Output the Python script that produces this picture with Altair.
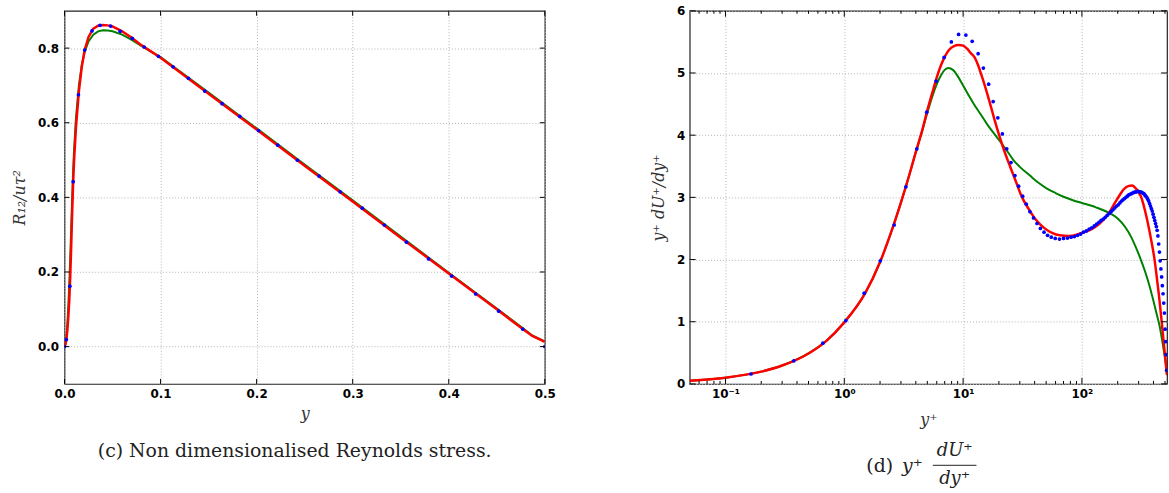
import altair as alt
import pandas as pd

# ---------------- Panel (c): Reynolds stress ----------------
c_dns_y = [0.0, 0.0019, 0.0056, 0.009, 0.0145, 0.021, 0.0286, 0.037, 0.048, 0.058,
           0.0706, 0.083, 0.0978, 0.113, 0.129, 0.146, 0.164, 0.1825, 0.202, 0.222,
           0.2425, 0.265, 0.287, 0.31, 0.333, 0.356, 0.379, 0.403, 0.428, 0.452, 0.477, 0.5]
c_dns_r = [0.0, 0.019, 0.162, 0.442, 0.675, 0.795, 0.846, 0.861, 0.859, 0.845,
           0.826, 0.803, 0.778, 0.750, 0.719, 0.685, 0.651, 0.617, 0.579, 0.540,
           0.4995, 0.457, 0.415, 0.371, 0.326, 0.280, 0.235, 0.189, 0.141, 0.095, 0.047, 0.0]

c_red_y = [0.0, 0.001, 0.002, 0.003, 0.004, 0.005, 0.006, 0.007, 0.008, 0.009, 0.01, 0.012,
           0.015, 0.018, 0.021, 0.025, 0.03, 0.035, 0.04, 0.045, 0.05, 0.06, 0.07, 0.08,
           0.1, 0.15, 0.2, 0.25, 0.3, 0.35, 0.4, 0.45, 0.477, 0.487, 0.5]
c_red_r = [0.0, 0.006, 0.02, 0.045, 0.08, 0.125, 0.19, 0.27, 0.36, 0.44, 0.5, 0.59,
           0.685, 0.75, 0.795, 0.83, 0.852, 0.86, 0.862, 0.861, 0.858, 0.845, 0.828, 0.808,
           0.774, 0.678, 0.582, 0.485, 0.389, 0.292, 0.196, 0.1, 0.047, 0.0285, 0.013]

c_grn_y = [0.0, 0.001, 0.002, 0.003, 0.004, 0.005, 0.006, 0.007, 0.008, 0.009, 0.01, 0.012,
           0.015, 0.018, 0.021, 0.025, 0.03, 0.035, 0.04, 0.045, 0.05, 0.06, 0.07, 0.08,
           0.1, 0.15, 0.2, 0.25, 0.3, 0.35, 0.4, 0.45, 0.477, 0.487, 0.5]
c_grn_r = [0.0, 0.008, 0.025, 0.06, 0.11, 0.17, 0.24, 0.32, 0.4, 0.47, 0.53, 0.615,
           0.7, 0.755, 0.79, 0.818, 0.836, 0.845, 0.848, 0.847, 0.845, 0.836, 0.822, 0.806,
           0.776, 0.681, 0.585, 0.488, 0.392, 0.295, 0.198, 0.102, 0.05, 0.03, 0.014]

c_x_ticks = [0.0, 0.1, 0.2, 0.3, 0.4, 0.5]
c_y_ticks = [0.0, 0.2, 0.4, 0.6, 0.8]

# ---------------- Panel (d): y+ dU+/dy+ ----------------
d_dns_yp = [0.164, 0.376, 0.66, 1.03, 1.47, 2.01, 2.63, 3.30, 4.08, 4.94, 5.93, 6.92, 7.96,
            9.16, 10.55, 11.93, 13.38, 14.8, 16.4, 17.9, 19.6, 21.4, 23.3, 25.3, 27.3, 29.3,
            31.7, 34.0, 36.5, 39.1, 41.9, 44.7, 48.0, 51.4, 55.2, 59.6, 64.7,
            70, 75.5, 81, 86.5, 92, 97.5, 103, 109, 115, 121, 127, 133, 139, 145, 151, 157,
            163, 169.5, 176, 182.5, 189, 195.5, 202, 208.5, 215, 221.5, 228, 234.5, 241,
            247.5, 254, 260.5, 267, 273.5, 280, 286.5, 293, 299.5, 306, 312.5, 319, 325.5,
            332, 338.5, 345, 351.5, 358, 364.5, 371, 377.5, 384, 390.5, 397, 403.5, 410,
            416.5, 423, 429.5, 436, 442.5, 449, 455.5, 462, 468.5, 475, 481.5, 488, 494.5,
            501, 506, 511, 516]
d_dns_v = [0.16, 0.372, 0.655, 1.017, 1.46, 1.98, 2.556, 3.17, 3.78, 4.37, 4.87, 5.25, 5.50,
           5.62, 5.61, 5.51, 5.31, 5.08, 4.82, 4.54, 4.28, 4.02, 3.78, 3.56, 3.35, 3.18,
           3.02, 2.89, 2.77, 2.67, 2.58, 2.50, 2.44, 2.39, 2.36, 2.34, 2.33,
           2.34, 2.345, 2.36, 2.37, 2.39, 2.41, 2.44, 2.46, 2.49, 2.51, 2.54, 2.57, 2.60,
           2.63, 2.65, 2.68, 2.71, 2.74, 2.77, 2.80, 2.83, 2.86, 2.88, 2.91, 2.94, 2.96,
           2.98, 3.00, 3.02, 3.04, 3.05, 3.06, 3.07, 3.08, 3.085, 3.09, 3.095, 3.095, 3.09,
           3.085, 3.08, 3.07, 3.06, 3.04, 3.02, 3.00, 2.97, 2.94, 2.90, 2.86, 2.82, 2.78,
           2.73, 2.68, 2.63, 2.58, 2.53, 2.47, 2.38, 2.25, 2.12, 1.98, 1.85, 1.72, 1.58,
           1.45, 1.30, 1.14, 0.88, 0.68, 0.47, 0.22]

d_red_yp = [0.05, 0.1, 0.2, 0.3, 0.5, 0.7, 1.0, 1.5, 2.0, 2.5, 3.0, 3.5, 4.0, 4.5, 5.0, 5.5,
            6.0, 6.5, 7.0, 7.6, 8.3, 9.2, 10.0, 10.8, 11.6, 12.5, 13.4, 14.3, 15.5, 16.9,
            18.5, 20.1, 22.0, 24.8, 27.5, 31.0, 36.0, 41.0, 48.0, 56.0, 65.0, 78.0, 90.0,
            100.0, 115.0, 131.0, 150.0, 169.0, 192.0, 210.0, 225.0, 245.0, 264.0, 285.0,
            300.0, 316.0, 330.0, 350.0, 370.0, 390.0, 407.0, 425.0, 445.0, 469.0, 490.0,
            510.0, 520.0]
d_red_v = [0.05, 0.1, 0.198, 0.296, 0.49, 0.685, 0.99, 1.46, 1.96, 2.46, 2.92, 3.34, 3.73,
           4.06, 4.40, 4.68, 4.93, 5.12, 5.26, 5.37, 5.43, 5.45, 5.44, 5.39, 5.32, 5.25,
           5.12, 4.96, 4.75, 4.5, 4.23, 4.0, 3.77, 3.5, 3.28, 3.02, 2.8, 2.64, 2.51, 2.43,
           2.39, 2.38, 2.40, 2.43, 2.47, 2.53, 2.63, 2.75, 2.93, 3.05, 3.13, 3.18, 3.19,
           3.14, 3.08, 3.0, 2.88, 2.68, 2.46, 2.23, 2.02, 1.74, 1.42, 1.0, 0.63, 0.3, 0.14]

d_grn_yp = [0.05, 0.1, 0.2, 0.3, 0.5, 0.7, 1.0, 1.5, 2.0, 2.5, 3.0, 3.5, 4.0, 4.5, 5.0, 5.5,
            6.0, 6.5, 7.0, 7.5, 8.2, 9.0, 10.0, 11.0, 12.3, 14.0, 16.0, 19.0, 23.0, 26.5,
            30.0, 36.5, 42.0, 50.0, 60.0, 70.0, 85.0, 100.0, 131.0, 169.0, 200.0, 232.0,
            260.0, 281.0, 310.0, 341.0, 370.0, 398.0, 425.0, 454.0, 475.0, 490.0, 505.0, 520.0]
d_grn_v = [0.05, 0.1, 0.198, 0.296, 0.49, 0.685, 0.99, 1.46, 1.96, 2.46, 2.92, 3.34, 3.73,
           4.05, 4.36, 4.62, 4.82, 4.96, 5.05, 5.08, 5.05, 4.95, 4.80, 4.66, 4.50, 4.34,
           4.17, 3.98, 3.77, 3.6, 3.49, 3.35, 3.25, 3.15, 3.07, 3.01, 2.95, 2.91, 2.84,
           2.75, 2.66, 2.52, 2.36, 2.22, 2.02, 1.80, 1.58, 1.35, 1.13, 0.9, 0.68, 0.52,
           0.36, 0.15]

d_x_major = [0.1, 1, 10, 100]
d_x_minor = [0.06, 0.07, 0.08, 0.09, 0.2, 0.3, 0.4, 0.5, 0.6, 0.7, 0.8, 0.9,
             2, 3, 4, 5, 6, 7, 8, 9, 20, 30, 40, 50, 60, 70, 80, 90, 200, 300, 400, 500]
d_y_ticks = [0, 1, 2, 3, 4, 5, 6]

caption_c = "(c) Non dimensionalised Reynolds stress."

# ---------------- styling ----------------
H = 376
W1 = 484
W2 = 481
RED = "#ff0000"
GREEN = "#008000"
BLUE = "#0000ff"
LABEL_FONT = "DejaVu Sans"
SERIF = "DejaVu Serif"
CAP_FONT = "DejaVu Serif"
CAP_SIZE = 19
FRAC_SIZE = 18
CAP_COLOR = "#222"

axis_common = dict(
    ticks=False, domain=False, grid=True, labelFlush=False, labelOverlap=False,
    gridColor="#b4b4b4", gridDash=[1, 2], gridWidth=1,
    labelFont=LABEL_FONT, labelFontWeight="bold", labelFontSize=12, labelColor="#000",
    titleFont=SERIF, titleFontStyle="italic", titleFontWeight="normal",
    titleColor="#333", titleFontSize=16,
)


def tick_layers(xvals, yvals, xscale, yscale, W, L):
    layers = []
    if xvals:
        dfx = pd.DataFrame({"x": xvals})
        layers.append(alt.Chart(dfx).mark_rule(color="#000", strokeWidth=1).encode(
            x=alt.X("x:Q", scale=xscale), y=alt.value(H), y2=alt.value(H - L)))
        layers.append(alt.Chart(dfx).mark_rule(color="#000", strokeWidth=1).encode(
            x=alt.X("x:Q", scale=xscale), y=alt.value(0), y2=alt.value(L)))
    if yvals:
        dfy = pd.DataFrame({"v": yvals})
        layers.append(alt.Chart(dfy).mark_rule(color="#000", strokeWidth=1).encode(
            y=alt.Y("v:Q", scale=yscale), x=alt.value(0), x2=alt.value(L)))
        layers.append(alt.Chart(dfy).mark_rule(color="#000", strokeWidth=1).encode(
            y=alt.Y("v:Q", scale=yscale), x=alt.value(W), x2=alt.value(W - L)))
    return layers


# ---------------- panel (c) ----------------
xs1 = alt.Scale(domain=[0, 0.5], nice=False, zero=False, padding=0)
ys1 = alt.Scale(domain=[-0.1, 0.9], nice=False, zero=False, padding=0)

df_c_grn = pd.DataFrame({"x": c_grn_y, "v": c_grn_r})
df_c_red = pd.DataFrame({"x": c_red_y, "v": c_red_r})
df_c_dns = pd.DataFrame({"x": c_dns_y, "v": c_dns_r})

c_green = alt.Chart(df_c_grn).mark_line(color=GREEN, strokeWidth=2, clip=True).encode(
    x=alt.X("x:Q", scale=xs1, axis=alt.Axis(values=c_x_ticks, format=".1f", title="y",
                                             labelPadding=5, titlePadding=6, **axis_common)),
    y=alt.Y("v:Q", scale=ys1, axis=alt.Axis(values=c_y_ticks, format=".1f", title="R₁₂/uτ²",
                                             labelPadding=6, titlePadding=10, **axis_common)),
    order=alt.Order("x:Q"),
)
c_red = alt.Chart(df_c_red).mark_line(color=RED, strokeWidth=2.5, clip=True).encode(
    x=alt.X("x:Q", scale=xs1), y=alt.Y("v:Q", scale=ys1), order=alt.Order("x:Q"))
c_dots = alt.Chart(df_c_dns).mark_circle(color=BLUE, size=14, opacity=1, clip=True).encode(
    x=alt.X("x:Q", scale=xs1), y=alt.Y("v:Q", scale=ys1))
c_caption = alt.Chart(pd.DataFrame({"t": [caption_c]})).mark_text(
    font=CAP_FONT, fontSize=CAP_SIZE, color=CAP_COLOR, align="center", baseline="middle").encode(
    text="t:N", x=alt.value(232), y=alt.value(444))

left = alt.layer(c_green, c_red, c_dots,
                 *tick_layers(c_x_ticks, c_y_ticks, xs1, ys1, W1, 5),
                 c_caption).properties(width=W1, height=H)

# ---------------- panel (d) ----------------
xs2 = alt.Scale(type="log", domain=[0.05, 520], nice=False, padding=0)
ys2 = alt.Scale(domain=[0, 6], nice=False, zero=False, padding=0)

df_d_grn = pd.DataFrame({"x": d_grn_yp, "v": d_grn_v})
df_d_red = pd.DataFrame({"x": d_red_yp, "v": d_red_v})
df_d_dns = pd.DataFrame({"x": d_dns_yp, "v": d_dns_v})

log_label = ("datum.value < 0.5 ? '10⁻¹' : datum.value < 5 ? '10⁰' : "
             "datum.value < 50 ? '10¹' : '10²'")

d_green = alt.Chart(df_d_grn).mark_line(color=GREEN, strokeWidth=2, clip=True,
                                        interpolate="monotone").encode(
    x=alt.X("x:Q", scale=xs2, axis=alt.Axis(values=d_x_major, labelExpr=log_label,
                                             title="y⁺", labelPadding=5, titlePadding=12,
                                             **axis_common)),
    y=alt.Y("v:Q", scale=ys2, axis=alt.Axis(values=d_y_ticks, format="d",
                                             title="y⁺ dU⁺/dy⁺", labelPadding=5,
                                             titlePadding=10, **axis_common)),
    order=alt.Order("x:Q"),
)
d_red = alt.Chart(df_d_red).mark_line(color=RED, strokeWidth=2.5, clip=True,
                                      interpolate="monotone").encode(
    x=alt.X("x:Q", scale=xs2), y=alt.Y("v:Q", scale=ys2), order=alt.Order("x:Q"))
d_dots = alt.Chart(df_d_dns).mark_circle(color=BLUE, size=14, opacity=1, clip=True).encode(
    x=alt.X("x:Q", scale=xs2), y=alt.Y("v:Q", scale=ys2))

one = pd.DataFrame({"t": [""]})
cap_d0 = alt.Chart(one).mark_text(font=CAP_FONT, fontSize=CAP_SIZE, color=CAP_COLOR,
                                  align="right", baseline="middle", text="(d)").encode(
    x=alt.value(205), y=alt.value(459))
cap_d1 = alt.Chart(one).mark_text(font=CAP_FONT, fontSize=CAP_SIZE, color=CAP_COLOR,
                                  fontStyle="italic", align="left", baseline="middle",
                                  text="y⁺").encode(x=alt.value(214), y=alt.value(459))
cap_d2 = alt.Chart(one).mark_text(font=CAP_FONT, fontSize=FRAC_SIZE, color=CAP_COLOR,
                                  fontStyle="italic", align="center", baseline="middle",
                                  text="dU⁺").encode(x=alt.value(267), y=alt.value(444))
cap_d3 = alt.Chart(one).mark_text(font=CAP_FONT, fontSize=FRAC_SIZE, color=CAP_COLOR,
                                  fontStyle="italic", align="center", baseline="middle",
                                  text="dy⁺").encode(x=alt.value(267), y=alt.value(472))
cap_line = alt.Chart(one).mark_rule(color=CAP_COLOR, strokeWidth=1).encode(
    x=alt.value(245), x2=alt.value(289), y=alt.value(458))

right = alt.layer(d_green, d_red, d_dots,
                  *tick_layers(d_x_major, d_y_ticks, xs2, ys2, W2, 6),
                  *tick_layers(d_x_minor, None, xs2, ys2, W2, 3),
                  cap_d0, cap_d1, cap_d2, cap_d3, cap_line).properties(width=W2, height=H)

chart = alt.hconcat(left, right, spacing=94).properties(
    padding={"left": 11, "top": 2, "right": 0, "bottom": 0},
    background="white",
).configure_view(stroke="#222", strokeWidth=1.2)

chart.save("out.html", embed_options={"renderer": "svg", "actions": False})
